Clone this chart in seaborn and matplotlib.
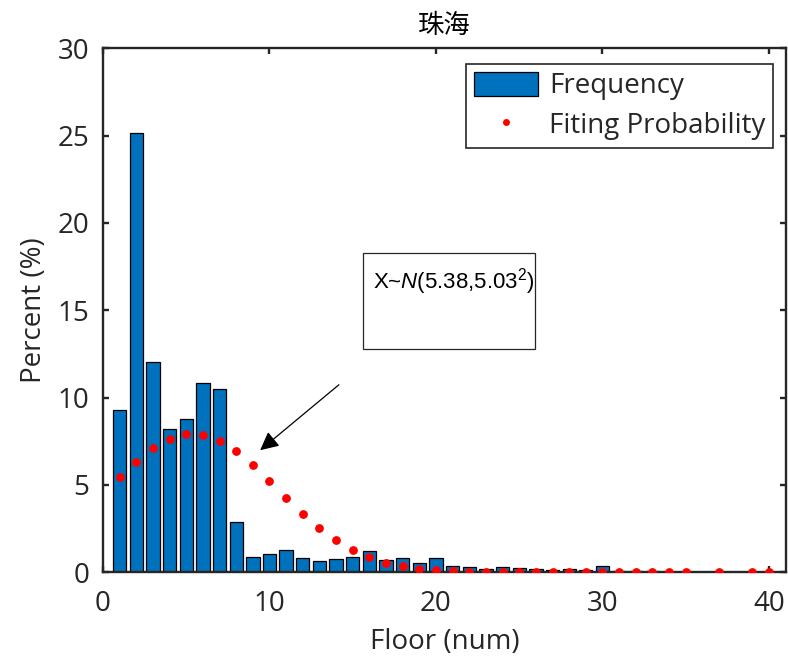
"""Floor distribution for Zhuhai: observed frequency bars plus fitted normal probability dots."""

# %% IMPORTS
from matplotlib.lines import Line2D
from matplotlib.patches import Patch, Rectangle
import matplotlib.pyplot as plt
import seaborn as sns

# %% DATA
floors = list(range(1, 34))
frequency = [
    9.27, 25.13, 12.05, 8.19, 8.78, 10.85, 10.48, 2.88, 0.88, 1.03,
    1.28, 0.84, 0.66, 0.78, 0.86, 1.22, 0.72, 0.80, 0.53, 0.84,
    0.34, 0.29, 0.21, 0.32, 0.25, 0.19, 0.13, 0.19, 0.15, 0.34,
    0.08, 0.10, 0.08,
]

# Fitted probability (%) at the floors shown as red dots
fit_floors = list(range(1, 36)) + [37, 39, 40]
fit_prob = [
    5.43, 6.33, 7.09, 7.64, 7.91, 7.87, 7.53, 6.92, 6.12, 5.20,
    4.25, 3.34, 2.52, 1.83, 1.27, 0.85, 0.55, 0.34, 0.20, 0.12,
    0.06, 0.03, 0.02, 0.01, 0.0, 0.0, 0.0, 0.0, 0.0, 0.0,
    0.0, 0.0, 0.0, 0.0, 0.0, 0.0, 0.0, 0.0,
]

x_ticks = [0, 10, 20, 30, 40]
y_ticks = [0, 5, 10, 15, 20, 25, 30]

bar_color = "#0072BD"
axis_color = "#262626"

# %% STYLE
sns.set_theme(style="white")
plt.rcParams["font.family"] = ["Open Sans", "Noto Sans CJK SC", "DejaVu Sans"]
plt.rcParams["mathtext.fontset"] = "custom"
plt.rcParams["mathtext.rm"] = "Liberation Sans"
plt.rcParams["mathtext.it"] = "Liberation Sans:italic"

# %% VISUALISE
fig = plt.figure(figsize=(7.88, 6.6), dpi=100)
ax = fig.add_axes([0.1307, 0.1329, 0.8663, 0.7939])

sns.barplot(
    x=floors,
    y=frequency,
    native_scale=True,
    color=bar_color,
    saturation=1,
    width=0.8,
    edgecolor="black",
    linewidth=0.9,
    ax=ax,
)

sns.scatterplot(
    x=fit_floors,
    y=fit_prob,
    color="red",
    s=40,
    linewidth=0,
    zorder=3,
    ax=ax,
)

ax.set_xlim(0, 41)
ax.set_ylim(0, 30)
ax.set_xticks(x_ticks)
ax.set_yticks(y_ticks)
ax.set_xticklabels([str(t) for t in x_ticks])

for side in ["left", "right", "top", "bottom"]:
    ax.spines[side].set_visible(True)
    ax.spines[side].set_color(axis_color)
    ax.spines[side].set_linewidth(1.7)

ax.tick_params(
    direction="in", length=4, width=1.7, colors=axis_color,
    labelsize=20, top=True, right=True, bottom=True, left=True,
)
ax.tick_params(axis="x", pad=13)
ax.tick_params(axis="y", pad=10)
for lbl in ax.get_xticklabels() + ax.get_yticklabels():
    lbl.set_color(axis_color)

ax.set_xlabel("Floor (num)", fontsize=20, color=axis_color, labelpad=7)
ax.set_ylabel("Percent (%)", fontsize=20, color=axis_color, labelpad=7)
ax.set_title("珠海", fontsize=19, color="black", pad=11)

# Legend built by hand so it looks like the original
handles = [
    Patch(facecolor=bar_color, edgecolor="black", linewidth=0.9),
    Line2D([], [], marker="o", color="red", linestyle="none", markersize=4),
]
leg = ax.legend(
    handles,
    ["Frequency", "Fiting Probability"],
    loc="upper right",
    bbox_to_anchor=(0.9815, 0.970),
    borderaxespad=0,
    fontsize=20,
    frameon=True,
    fancybox=False,
    handlelength=2.3,
    handleheight=0.95,
    handletextpad=0.4,
    labelspacing=0.4,
    borderpad=0.28,
)
leg.get_frame().set_edgecolor(axis_color)
leg.get_frame().set_linewidth(1.2)
leg.get_frame().set_alpha(1)

# Distribution text box and arrow
ax.add_patch(Rectangle(
    (0.381, 0.426), 0.252, 0.183, transform=ax.transAxes,
    facecolor="white", edgecolor=axis_color, linewidth=0.9, zorder=4,
))
ax.text(
    0.395, 0.555, r"X~$\mathit{N}$(5.38,5.03$^{\mathregular{2}}$)", transform=ax.transAxes,
    fontsize=16, family="Liberation Sans", color="black", va="center", zorder=5,
)
ax.annotate(
    "",
    xy=(0.2271, 0.2296), xycoords="axes fraction",
    xytext=(0.3487, 0.3613), textcoords="axes fraction",
    arrowprops=dict(arrowstyle="-|>", color="black", lw=0.9, mutation_scale=28),
)

fig.savefig("out.png", dpi=100)
